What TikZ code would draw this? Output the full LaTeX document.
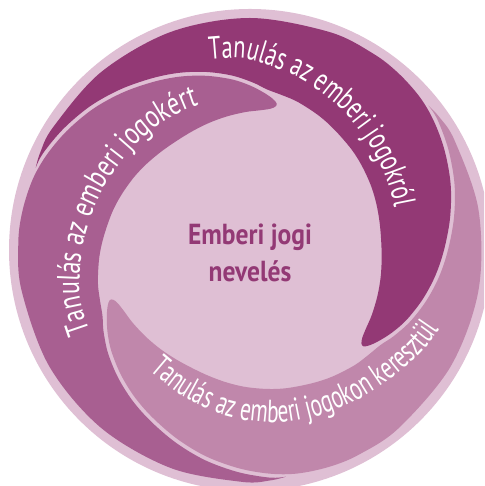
\documentclass[tikz,border=0pt]{standalone}
\usepackage{fontspec}
\newfontfamily\condA[FakeStretch=0.70]{PT Sans}
\newfontfamily\condB[FakeStretch=0.75]{PT Sans}
\newfontfamily\condC[FakeStretch=0.67]{PT Sans}
\newfontfamily\centerfont[FakeStretch=0.88]{PT Sans}
\usetikzlibrary{decorations.text}
\definecolor{bgpink}{HTML}{DFBFD4}
\definecolor{segA}{HTML}{933975}
\definecolor{segB}{HTML}{A85F91}
\definecolor{segC}{HTML}{C087AB}
\newcommand\lblA{\condA\fontsize{32}{32}\selectfont}
\newcommand\lblB{\condB\fontsize{32}{32}\selectfont}
\newcommand\lblC{\condC\fontsize{32}{32}\selectfont}
\newcommand\segshape{plot[smooth, tension=0.55] coordinates {
 (159:229.5) (155:231.3) (148:232) (130:232) (110:232) (90:232) (70:232) (58:231.8) (50:230.8) (42:228.5) (35:224.5) (27:218.5) (18:211) (9:202.5) (0:194) (-8:187) (-16:179.5) (-24:171.5) (-30:164.5) (-35:158) (-38.5:153) (-40.3:149) (-40:145.5) (-38:142.5) (-34:140) (-28:138) (-20:135.5) (-12:133.5) (-4:132) (4:131.5) (12:132.5) (20:134.5) (28:137) (37:140) (45:143) (55:147) (63:151) (72:155.5) (78:158) (84:161.5) (89:167.5) (96:175.5) (104:183.5) (112:191) (120:198) (129:206.5) (138:215) (147:222.5) (155:228.5) (159:229.5)} -- cycle}
\tikzset{
  segfill/.style={draw=none},
  lbltext/.style 2 args={decorate, decoration={text along path, text align=left, text color=white, text={|#1|#2}}}
}
\begin{document}
\begin{tikzpicture}[x=1pt,y=1pt]
\useasboundingbox (0,0) rectangle (484,486);
\clip (0,0) rectangle (484,486);
\begin{scope}[shift={(250,236)}]
  \fill[bgpink] (0,0) circle (241);
  \fill[segA, segfill] \segshape;
  \begin{scope}[rotate=-120]
    \fill[segC, segfill] \segshape;
  \end{scope}
  \begin{scope}[rotate=120]
    \fill[segB, segfill] \segshape;
  \end{scope}
  % labels along the bands
  \path[lbltext={\lblA}{Tanulás az emberi jogokról}] plot[smooth] coordinates {(102:195) (91:191) (74:179) (57:168) (44:160.5) (31:155) (18:151) (5:148) (-5:146) (-15:145)};
  \path[lbltext={\lblB}{Tanulás az emberi jogokért}] plot[smooth] coordinates {(207:180) (195:176.5) (180:168) (167:162) (154:158) (138:155.5) (123:154.5) (110:153.5) (95:152) (80:151)};
  \path[lbltext={\lblC}{Tanulás az emberi jogokon keresztül}] plot[smooth] coordinates {(-130:157) (-115:161) (-98:168) (-81:175) (-68:179) (-55:184) (-42:191) (-30:200) (-18:208) (-5:215) (5:219)};
  \node[text=segA, font=\centerfont\bfseries\fontsize{29}{37}\selectfont, align=center] (title) at (0,-3) {Emberi jogi\\nevelés};
\end{scope}
\end{tikzpicture}
\end{document}
